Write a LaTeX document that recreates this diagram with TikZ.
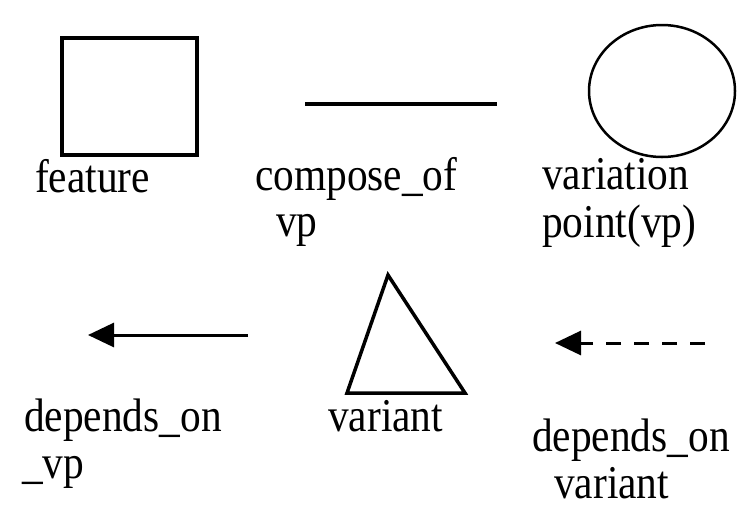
\documentclass[tikz,border=0pt]{standalone}
\usepackage{fontspec}
\setmainfont{Liberation Serif}[FakeStretch=0.88]
\usetikzlibrary{arrows.meta,shapes.geometric}
\begin{document}
\begin{tikzpicture}[x=1pt,y=-1pt,
  lbl/.style={anchor=base west,inner sep=0pt,font=\fontsize{47}{48}\selectfont},
  shp/.style={draw=black,line width=3pt},
  dep/.style={line width=3pt,-{Triangle[length=26pt,width=24pt]}}]
\useasboundingbox (0,0) rectangle (742,507);
% feature
\node[shp,line width=4.5pt,minimum width=135pt,minimum height=117pt,inner sep=0pt] (feat) at (129.5,96.5) {};
\node[lbl] (featlbl) at (35,192) {feature};
% compose_of
\coordinate (c1) at (305,104);
\coordinate (c2) at (497,104);
\draw[line width=3.5pt] (c1) -- (c2);
\node[lbl] (complbl) at (255,190) {compose\_of};
\node[lbl] (complbl2) at (276,236) {vp};
% variation point
\node[draw=black,line width=2.5pt,ellipse,minimum width=146pt,minimum height=132pt,inner sep=0pt] (vp) at (662,91) {};
\node[lbl] (vplbl) at (542,189) {variation};
\node[lbl] (vplbl2) at (542,237) {point(vp)};
% variant
\coordinate (t1) at (388,275);
\coordinate (t2) at (465,393);
\coordinate (t3) at (347,393);
\draw[line width=3.5pt,line join=miter] (t1) -- (t2) -- (t3) -- cycle;
\node[lbl] (varlbl) at (328,431) {variant};
% depends_on_vp
\coordinate (a1) at (248,335);
\coordinate (a2) at (88,335);
\draw[dep] (a1) -- (a2);
\node[lbl] (d1lbl) at (24,431) {depends\_on};
\node[lbl] (d1lbl2) at (22,478) {\_vp};
% depends_on variant
\coordinate (b1) at (705,343);
\coordinate (b2) at (555,343);
\draw[dep,dash pattern=on 15pt off 13pt] (b1) -- (b2);
\node[lbl] (d2lbl) at (532,451) {depends\_on};
\node[lbl] (d2lbl2) at (554,498) {variant};
\end{tikzpicture}
\end{document}
